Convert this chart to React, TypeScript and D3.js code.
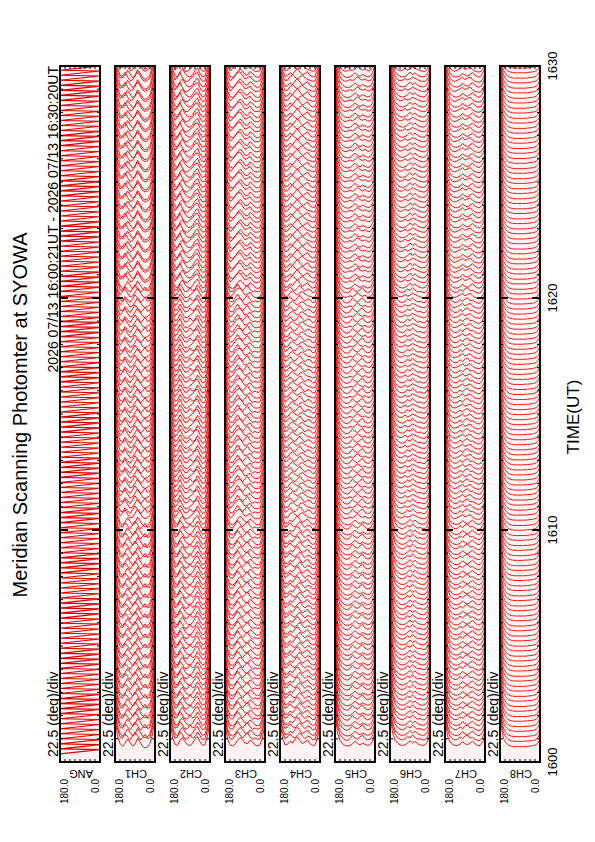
import React from 'react';
import * as d3 from 'd3';

// ---------------- data ----------------
const TITLE = 'Meridian Scanning Photomter at SYOWA';
const SUBTITLE = '2026 07/13 16:00:21UT - 2026 07/13 16:30:20UT';
const AXIS_TITLE = 'TIME(UT)';
const SCALE_LABEL = '22.5 (deg)/div';
const CHANNELS = ['ANG', 'CH1', 'CH2', 'CH3', 'CH4', 'CH5', 'CH6', 'CH7', 'CH8'];
const ANGLE_RANGE_LABELS = ['180.0', '0.0'];
const TIME_TICK_LABELS = ['1600', '1610', '1620', '1630'];
const TIME_TICK_MIN = [0, 10, 20, 30];
const TIME_MINOR_MIN = d3.range(0, 31);
const ANGLE_TICKS = [157.5, 135, 112.5, 90, 67.5, 45, 22.5];
const ANGLE_SAMPLES = [180, 168.75, 157.5, 146.25, 135, 123.75, 112.5, 101.25, 90, 78.75, 67.5, 56.25, 45, 33.75, 22.5, 11.25, 0];

// time in seconds after 16:00:00 UT
const START_S = 21;
const END_S = 1820;
const SCAN_PERIOD_S = 13;
const SWEEP_S = 11;          // 180 -> 0 sweep duration; the rest of the period is the return
const BLOCK_START_MIN = [0, 10, 20];

// intensity profiles (kR) along the scan, 180 -> 0 deg, per 10-minute block
const CH1_PROFILES = [
  [12, 6, 3.5, 2.5, 3.5, 5, 3.8, 2.6, 3.2, 5.2, 4, 2.6, 2, 2.4, 3.5, 6.5, 12],
  [13, 6.5, 4, 3.5, 5, 4, 3, 4.2, 5.6, 4.4, 3, 3.6, 4.8, 3.4, 3.8, 7, 13],
  [12, 6, 4, 4.8, 6, 4.5, 3.2, 3.5, 4.8, 6.2, 5, 3.5, 3, 3.4, 4, 7, 12],
];
const CH2_PROFILES = [
  [11, 5.5, 3.2, 2.8, 4.5, 5.5, 4, 3, 2.8, 3.5, 5, 5.8, 4, 2.8, 3.2, 6, 11],
  [12, 6, 3.5, 4, 5.8, 4.6, 3.2, 3.4, 4.6, 3.6, 4, 5.6, 4.4, 3, 3.4, 6.5, 12],
  [11.5, 5.8, 3.4, 4.6, 6, 4.2, 3, 3, 3.8, 4.4, 5.6, 6, 4.2, 3, 3.2, 6, 11.5],
];
const CH3_PROFILES = [
  [10.5, 5, 3, 2.6, 3.2, 4.5, 5.5, 4.8, 3.6, 3.4, 4.6, 4, 3, 2.6, 3, 5.5, 10],
  [11, 5.5, 3.4, 3.2, 4.4, 5.8, 4.6, 3.6, 4.6, 5.4, 4, 3.2, 3.6, 3.2, 3.4, 5.8, 10.5],
  [11, 5.2, 3.2, 3.8, 5, 6, 6.2, 5, 3.8, 4.2, 4.8, 3.6, 3, 3, 3.2, 5.6, 10.5],
];
const CH4_PROFILES = [
  [11, 5.2, 3, 3.2, 4.2, 3.6, 4.8, 5.6, 4.4, 3.4, 4, 4.6, 3.4, 2.8, 3, 5.4, 9.5],
  [11.5, 5.6, 3.4, 4, 5, 4, 3.6, 4.6, 5.4, 4.2, 3.4, 4.2, 4, 3, 3.2, 5.4, 9.5],
  [11, 5.4, 3.2, 3.4, 4.6, 5.2, 4.4, 3.8, 4.6, 5, 4.2, 3.6, 3.4, 3, 3.2, 5.2, 9],
];
const CH5_PROFILES = [
  [14, 7, 4.5, 3.4, 2.8, 2.6, 2.8, 3.4, 4.2, 3.4, 3, 3.6, 3.2, 2.8, 3, 4.2, 7],
  [14.5, 7.4, 4.8, 3.6, 3, 2.8, 3.4, 4.4, 3.6, 3.2, 4, 4.6, 3.4, 3, 3.2, 4.4, 7],
  [14, 7.2, 4.6, 3.4, 3, 3.2, 3.6, 3.2, 3.8, 4.6, 3.8, 3.4, 3.8, 3.2, 3.2, 4.2, 6.5],
];
const CH6_PROFILES = [
  [14, 7, 4.6, 3.6, 3, 2.8, 3, 3.6, 4.4, 3.6, 4.2, 3.4, 3, 2.8, 3, 4, 6.5],
  [14.5, 7.5, 5, 3.8, 3.2, 3, 3.4, 4.2, 3.6, 4.6, 3.8, 3.2, 3.4, 3, 3, 4, 6.5],
  [14, 7.2, 4.8, 3.6, 3.2, 3.4, 4, 3.4, 3.8, 4.4, 4, 3.6, 3.2, 3, 3, 3.8, 6],
];
const CH7_PROFILES = [
  [12, 6, 4, 3.2, 2.8, 2.8, 3.2, 4, 3.4, 3, 3.6, 4.2, 3.4, 2.8, 2.8, 3.8, 6],
  [12.5, 6.4, 4.2, 3.4, 3, 3.2, 4, 3.4, 4.2, 4.6, 3.6, 3.8, 3.2, 2.8, 2.8, 3.8, 6],
  [12, 6.2, 4, 3.2, 3, 3.4, 3.8, 4.4, 3.6, 4, 4.4, 3.6, 3, 2.8, 2.8, 3.6, 5.5],
];
const CH8_PROFILES = [
  [13, 6.5, 4.2, 3.2, 2.7, 2.5, 2.4, 2.4, 2.4, 2.4, 2.4, 2.5, 2.6, 2.7, 2.9, 3.5, 5],
  [13.5, 6.8, 4.4, 3.3, 2.8, 2.6, 2.5, 2.5, 2.5, 2.5, 2.6, 2.6, 2.7, 2.8, 3, 3.6, 5.2],
  [13, 6.6, 4.3, 3.2, 2.8, 2.6, 2.5, 2.5, 2.5, 2.5, 2.5, 2.6, 2.7, 2.8, 3, 3.5, 4.9],
];
const CH_PROFILES = [CH1_PROFILES, CH2_PROFILES, CH3_PROFILES, CH4_PROFILES, CH5_PROFILES, CH6_PROFILES, CH7_PROFILES, CH8_PROFILES];

// ---------------- layout ----------------
const W = 595;
const H = 842;
const PANEL_X0 = 60;
const PANEL_STEP = 55;
const PANEL_W = 40;
const Y_BOTTOM = 762;
const Y_TOP = 66;
const FONT = 'Liberation Sans, Arial, Helvetica, sans-serif';

export default function App() {
  const yTime = d3.scaleLinear().domain([0, 1800]).range([Y_BOTTOM, Y_TOP]);
  const disp = d3.scaleLinear().domain([0, 10]).range([0, 30]);
  const scanTimes = d3.range(START_S, END_S, SCAN_PERIOD_S);

  // mirror angle samples: sweep 180 -> 0, then return 0 -> 180
  const angSamples: [number, number][] = [];
  scanTimes.forEach((t) => {
    angSamples.push([t, 180]);
    angSamples.push([t + SWEEP_S, 0]);
  });

  const panels = CHANNELS.map((name, i) => {
    const x0 = PANEL_X0 + i * PANEL_STEP;
    const xA = d3.scaleLinear().domain([180, 0]).range([x0, x0 + PANEL_W]);
    let paths: string[] = [];
    if (i === 0) {
      const line = d3.line<[number, number]>()
        .x((d) => xA(d[1]))
        .y((d) => yTime(d[0]));
      paths = [line(angSamples) || ''];
    } else {
      const profiles = CH_PROFILES[i - 1];
      paths = scanTimes.map((t, n) => {
        const b = Math.max(0, d3.bisectRight(BLOCK_START_MIN, t / 60) - 1);
        const prof = profiles[(b + (n % 2)) % profiles.length];
        const line = d3.line<number>()
          .x((_, k) => xA(ANGLE_SAMPLES[k]))
          .y((v) => yTime(t) - disp(v))
          .curve(i >= 8 ? d3.curveMonotoneX : d3.curveLinear);
        return line(prof) || '';
      });
    }
    return { name, i, x0, xA, paths };
  });

  return (
    <svg width={W} height={H} style={{ position: 'absolute', left: 0, top: 0, background: '#fff' }} fontFamily={FONT}>
      <defs>
        {panels.map((p) => (
          <clipPath id={`clip${p.i}`} key={p.i}>
            <rect x={p.x0} y={Y_TOP} width={PANEL_W} height={Y_BOTTOM - Y_TOP} />
          </clipPath>
        ))}
      </defs>
      <rect x={0} y={0} width={W} height={H} fill="#fff" />

      {/* title and subtitle */}
      <text transform={`translate(27,415) rotate(-90)`} textAnchor="middle" fontSize={20} fill="#000">{TITLE}</text>
      <text transform={`translate(58,${Y_TOP}) rotate(-90)`} textAnchor="end" fontSize={14} fill="#000">{SUBTITLE}</text>

      {panels.map((p) => (
        <g key={p.i}>
          <rect x={p.x0} y={Y_TOP} width={PANEL_W} height={Y_BOTTOM - Y_TOP} fill="#fff3f3" />
          <g clipPath={`url(#clip${p.i})`}>
            {p.paths.map((d, k) => (
              <path key={k} d={d} fill="none" stroke={p.i === 0 ? '#d80000' : '#ee0000'} strokeWidth={p.i === 0 ? 1.1 : 0.9} />
            ))}
          </g>
          {/* time ticks */}
          {TIME_MINOR_MIN.map((m) => {
            const y = yTime(m * 60);
            const major = m % 10 === 0;
            const len = major ? 8 : 3;
            return (
              <g key={m} stroke="#000" strokeWidth={major ? 2 : 1}>
                <line x1={p.x0} x2={p.x0 + len} y1={y} y2={y} />
                <line x1={p.x0 + PANEL_W} x2={p.x0 + PANEL_W - len} y1={y} y2={y} />
              </g>
            );
          })}
          {/* angle ticks */}
          {ANGLE_TICKS.map((a) => (
            <g key={a} stroke="#000" strokeWidth={1}>
              <line x1={p.xA(a)} x2={p.xA(a)} y1={Y_BOTTOM} y2={Y_BOTTOM - 3} />
              <line x1={p.xA(a)} x2={p.xA(a)} y1={Y_TOP} y2={Y_TOP + 3} />
            </g>
          ))}
          <rect x={p.x0} y={Y_TOP} width={PANEL_W} height={Y_BOTTOM - Y_TOP} fill="none" stroke="#000" strokeWidth={2} />
          {/* labels */}
          <text transform={`translate(${p.x0 - 2},757) rotate(-90)`} textAnchor="start" fontSize={14} fill="#000">{SCALE_LABEL}</text>
          <text transform={`translate(${p.x0 + 8},779) rotate(-90)`} textAnchor="end" fontSize={10} fill="#000">{ANGLE_RANGE_LABELS[0]}</text>
          <text transform={`translate(${p.x0 + 39},779) rotate(-90)`} textAnchor="end" fontSize={10} fill="#000">{ANGLE_RANGE_LABELS[1]}</text>
          <text transform={`translate(${p.x0 + PANEL_W / 2 + 1},770) rotate(180)`} textAnchor="middle" fontSize={11} fill="#000">{p.name}</text>
        </g>
      ))}

      {/* time axis labels */}
      {TIME_TICK_LABELS.map((lab, k) => (
        <text key={lab} transform={`translate(557,${yTime(TIME_TICK_MIN[k] * 60)}) rotate(-90)`} textAnchor="middle" fontSize={13} fill="#000">{lab}</text>
      ))}
      <text transform={`translate(579,417) rotate(-90)`} textAnchor="middle" fontSize={17} fill="#000">{AXIS_TITLE}</text>
    </svg>
  );
}
